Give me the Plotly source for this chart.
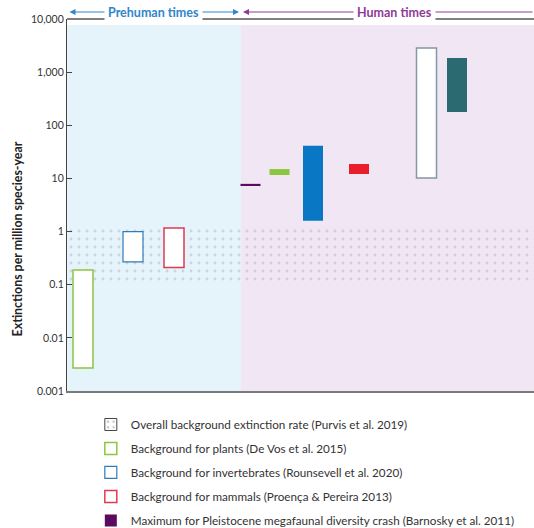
import plotly.graph_objects as go

# ---------------- data ----------------
band_name = "Overall background extinction rate (Purvis et al. 2019)"
band_low = 0.1
band_high = 1.3

series_names = [
    "Background for plants (De Vos et al. 2015)",
    "Background for invertebrates (Rounsevell et al. 2020)",
    "Background for mammals (Proença & Pereira 2013)",
    "Maximum for Pleistocene megafaunal diversity crash (Barnosky et al. 2011)",
    "Current for plants",
    "Current for invertebrates",
    "Current for mammals",
    "Overall current extinction rate",
    "Projected extinction rate",
]
series_low = [0.0027, 0.27, 0.21, 7.2, 11.6, 1.6, 12.1, 10.2, 178]
series_high = [0.19, 1.0, 1.17, 7.9, 15.0, 41.0, 18.7, 2840, 1850]
in_legend = [True, True, True, True, False, False, False, False, False]

tick_vals = [0.001, 0.01, 0.1, 1, 10, 100, 1000, 10000]
tick_text = ["0.001", "0.01", "0.1", "1", "10", "100", "1,000", "10,000"]

y_title = "Extinctions per million species-year"
era_labels = ["Prehuman times", "Human times"]

# ---------------- layout / style ----------------
x_pos = [16, 66, 107, 183.5, 212.5, 246, 292, 359.5, 390]
fill_colors = ["white", "white", "white", "#5b0a5f", "#8cc540", "#0a77c4",
               "#e81f2a", "white", "#2c6a72"]
line_colors = ["#8cc540", "#2f7cba", "#df3a50", "#5b0a5f", "#8cc540", "#0a77c4",
               "#e81f2a", "#8298a4", "#2c6a72"]
line_widths = [1.5, 1.2, 1.5, 0, 0, 0, 0, 1.5, 0]
X_MAX = 467
ERA_SPLIT = 174
FONT = "Lato"

fig = go.Figure()

# dotted background band
fig.add_trace(go.Bar(
    x=[X_MAX / 2], y=[band_high - band_low], base=[band_low], width=[X_MAX],
    name=band_name, showlegend=False, hoverinfo="skip",
    marker=dict(color="rgba(0,0,0,0)", line=dict(width=0),
                pattern=dict(shape=".", fgcolor="#b4b4c0", bgcolor="rgba(0,0,0,0)",
                             size=8, solidity=0.1)),
))
# legend entry for band
fig.add_trace(go.Bar(
    x=[None], y=[None], name=band_name, legendgroup="g0", legendrank=1,
    marker=dict(color="white", line=dict(width=1, color="#444"),
                pattern=dict(shape=".", fgcolor="#888", bgcolor="white", size=7, solidity=0.15)),
))

for i, nm in enumerate(series_names):
    fig.add_trace(go.Bar(
        x=[x_pos[i]], y=[series_high[i] - series_low[i]], base=[series_low[i]],
        width=[20], name=nm, showlegend=in_legend[i], legendgroup=f"g{i+1}",
        legendrank=i + 2,
        marker=dict(color=fill_colors[i],
                    line=dict(color=line_colors[i], width=line_widths[i])),
    ))

shapes = [
    dict(type="rect", xref="x", yref="paper", x0=0, x1=ERA_SPLIT, y0=0, y1=0.984,
         fillcolor="#e5f3fa", line=dict(width=0), layer="below"),
    dict(type="rect", xref="x", yref="paper", x0=ERA_SPLIT, x1=X_MAX, y0=0, y1=0.984,
         fillcolor="#f1e6f3", line=dict(width=0), layer="below"),
    dict(type="line", xref="paper", yref="paper", x0=0, x1=1, y0=1, y1=1,
         line=dict(color="#555", width=1.5), layer="above"),
]

annotations = [
    dict(x=172, y=1.0188, xref="x", yref="paper", ax=1, ay=0, axref="x", ayref="pixel",
         text="", showarrow=True, arrowhead=2, arrowside="end+start", arrowsize=1,
         arrowwidth=1.2, arrowcolor="#2f86c8"),
    dict(x=176, y=1.0188, xref="x", yref="paper", ax=X_MAX, ay=0, axref="x", ayref="pixel",
         text="", showarrow=True, arrowhead=2, arrowside="end", arrowsize=1,
         arrowwidth=1.2, arrowcolor="#8e3a96"),
    dict(x=86.5, y=1.0188, xref="x", yref="paper", text="<b>" + era_labels[0] + "</b>",
         showarrow=False, bgcolor="white", borderpad=3, yanchor="middle",
         font=dict(family=FONT, size=12.5, color="#2f86c8")),
    dict(x=327.5, y=1.0188, xref="x", yref="paper", text="<b>" + era_labels[1] + "</b>",
         showarrow=False, bgcolor="white", borderpad=3, yanchor="middle",
         font=dict(family=FONT, size=12.5, color="#8e3a96")),
    dict(x=-0.105, y=0.41, xref="paper", yref="paper", text="<b>" + y_title + "</b>",
         textangle=-90, showarrow=False, xanchor="center", yanchor="middle",
         font=dict(family=FONT, size=12.4, color="#222")),
]

fig.update_layout(
    width=534, height=528,
    margin=dict(l=67, r=0, t=19, b=137, autoexpand=False),
    paper_bgcolor="white", plot_bgcolor="white",
    barmode="overlay",
    font=dict(family=FONT, size=10, color="#333"),
    shapes=shapes, annotations=annotations,
    xaxis=dict(range=[0, X_MAX], showgrid=False, zeroline=False, showticklabels=False,
               ticks="", showline=True, linecolor="#7a7a7a", linewidth=2, fixedrange=True,
               automargin=False),
    yaxis=dict(type="log", range=[-3, 4], tickvals=tick_vals, ticktext=tick_text,
               showgrid=False, zeroline=False, ticks="inside", ticklen=5, tickcolor="#444",
               showline=True, linecolor="#444", linewidth=1.2, automargin=False,
               tickfont=dict(family=FONT, size=10.5, color="#333")),
    legend=dict(x=0.051, y=-0.051, xanchor="left", yanchor="top", traceorder="grouped",
                tracegroupgap=5, bgcolor="rgba(0,0,0,0)",
                font=dict(family=FONT, size=11.7, color="#333")),
)

fig.write_html(
    "out.html",
    config={"displayModeBar": False},
    post_script="document.body.style.margin='0';document.body.style.overflow='hidden';",
)
